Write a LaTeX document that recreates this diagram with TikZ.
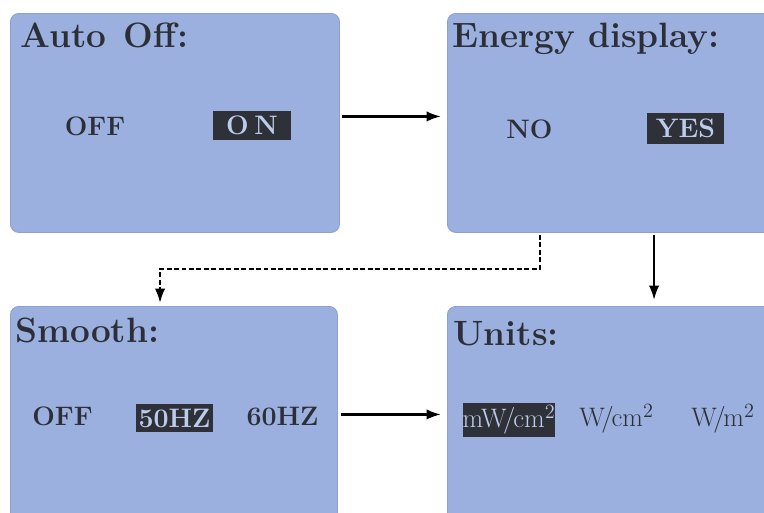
\documentclass[tikz,border=0pt]{standalone}
\usetikzlibrary{arrows.meta,positioning}
\definecolor{lcdblue}{RGB}{155,176,222}
\definecolor{lcdedge}{RGB}{140,160,212}
\definecolor{lcdtext}{RGB}{44,47,56}
\definecolor{lcddark}{RGB}{46,49,56}
\definecolor{lcdlight}{RGB}{190,204,236}
\newcommand{\slashunit}[2]{#1W\kern-2.5pt/\kern-1.5pt#2$^2$}
\tikzset{
  screen/.style={draw=lcdedge, fill=lcdblue, rounded corners=6pt,
    line width=0.6pt, anchor=north west, inner sep=0pt},
  title/.style={anchor=base west, text=lcdtext, inner sep=0pt,
    font=\fontsize{25}{29}\selectfont\bfseries},
  option/.style={text=lcdtext, inner sep=0pt,
    font=\fontsize{19}{22}\selectfont\bfseries},
  plainopt/.style={option, font=\fontsize{19}{22}\selectfont},
  chosen/.style={fill=lcddark, text=lcdlight},
  flow/.style={line width=1.6pt, -{Latex[length=3.6mm,width=2.6mm]}},
  jump/.style={flow, dash pattern=on 3.5pt off 1.8pt},
}
\begin{document}
\begin{tikzpicture}[x=0.025cm,y=-0.025cm]
  \useasboundingbox (0,0) rectangle (764,513);
  % screens
  \node[screen, minimum width=8.225cm, minimum height=5.475cm] (autooff) at (10,13) {};
  \node[screen, minimum width=8.5cm, minimum height=5.475cm] (energy) at (447,13) {};
  \node[screen, minimum width=8.175cm, minimum height=5.75cm] (smooth) at (10,306) {};
  \node[screen, minimum width=8.5cm, minimum height=5.75cm] (units) at (447,306) {};
  % titles
  \node[title] (autoofftitle) at (20,47) {Auto\hspace{3pt} Off\hspace{1pt}:};
  \node[title] (energytitle) at (452,48) {Energy display:};
  \node[title] (smoothtitle) at (15,342) {Smooth:};
  \node[title] (unitstitle) at (453,345) {Units:};
  % options
  \node[option] (aooff) at (95,126) {OFF};
  \node[option, chosen, minimum width=1.95cm, minimum height=0.725cm] (aoon) at (252,125.5) {O\hspace{4pt}N};
  \node[option] (enno) at (529.5,129) {NO};
  \node[option, chosen, minimum width=1.925cm, minimum height=0.775cm] (enyes) at (685.5,128.5) {YES};
  \node[option] (smoff) at (62.5,416) {OFF};
  \node[option, chosen, minimum width=1.925cm, minimum height=0.7cm] (smfifty) at (174.5,418) {50HZ};
  \node[option] (smsixty) at (282.5,416) {60HZ};
  \node[plainopt, chosen, minimum width=2.2cm, minimum height=0.85cm] (unmw) at (509,420) {\slashunit{m}{cm}};
  \node[plainopt] (unwcm) at (616.5,419) {\slashunit{}{cm}};
  \node[plainopt] (unwm) at (723,419) {\slashunit{}{m}};
  % connectors
  \draw[flow] ([xshift=0.05cm,yshift=0.1625cm]autooff.east) -- ([xshift=-0.15cm,yshift=0.1625cm]energy.west);
  \draw[flow] ([xshift=0.075cm,yshift=0.175cm]smooth.east) -- ([xshift=-0.15cm,yshift=0.175cm]units.west);
  \draw[jump] ([xshift=2.325cm,yshift=-0.05cm]energy.south west) -- ++(0,34)
    -| ([xshift=3.75cm,yshift=0.075cm]smooth.north west);
  \draw[flow] ([xshift=5.175cm,yshift=-0.05cm]energy.south west) -- ([xshift=5.175cm,yshift=0.15cm]units.north west);
\end{tikzpicture}
\end{document}
